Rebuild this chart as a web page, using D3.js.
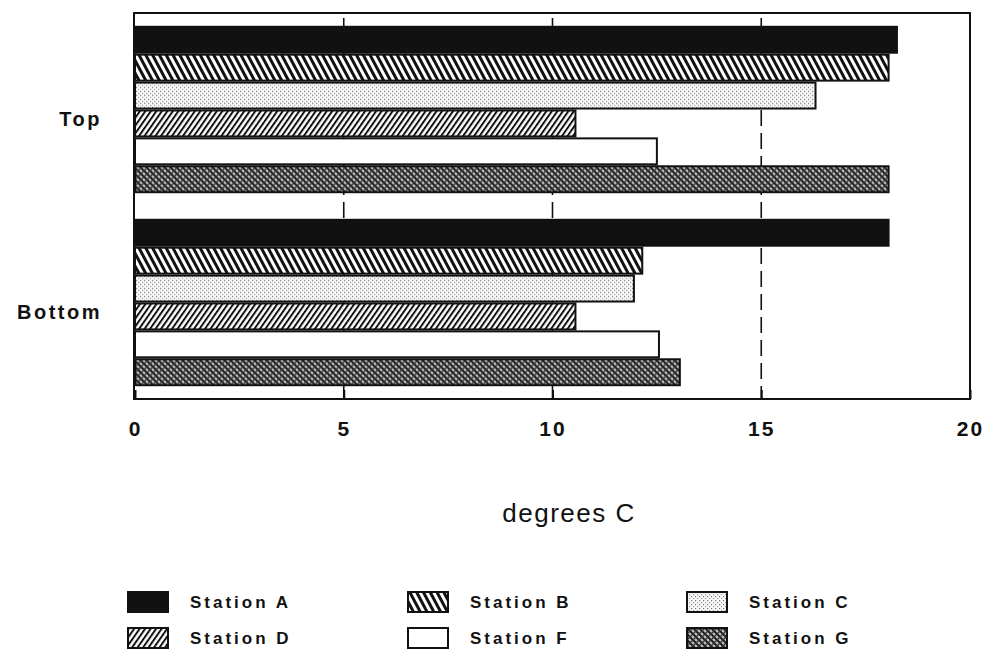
<!DOCTYPE html>
<html>
<head>
  <title>Temperature by Station</title>
  <script src="https://cdn.jsdelivr.net/npm/d3@7"></script>
  <style>
    body { margin: 0; background: #fff; font-family: "Liberation Sans", Arial, sans-serif; }
    .lbl { font-weight: bold; fill: #111; }
  </style>
</head>
<body>
  <div id="chart"></div>
  <script>
    const groups = ["Top", "Bottom"];
    const stations = ["Station A", "Station B", "Station C", "Station D", "Station F", "Station G"];
    const topValues = [18.25, 18.05, 16.3, 10.55, 12.5, 18.05];
    const bottomValues = [18.05, 12.15, 11.95, 10.55, 12.55, 13.05];
    const xTicks = [0, 5, 10, 15, 20];
    const gridTicks = [5, 10, 15];

    const W = 999, H = 659;
    const plot = {left: 134, right: 970, top: 13, bottom: 399};

    const svg = d3.select("#chart").append("svg")
      .attr("width", W).attr("height", H);

    // fill patterns imitating the old printer hatching
    const defs = svg.append("defs");
    function lines(id, period, width, angle, bg) {
      const p = defs.append("pattern").attr("id", id)
        .attr("patternUnits", "userSpaceOnUse")
        .attr("width", period).attr("height", period)
        .attr("patternTransform", `rotate(${angle})`);
      p.append("rect").attr("width", period).attr("height", period).attr("fill", bg);
      p.append("rect").attr("width", width).attr("height", period).attr("fill", "#111");
    }
    lines("patB", 6, 3, -28, "#fff");
    lines("patD", 4.5, 2, 35, "#fff");

    const pc = defs.append("pattern").attr("id", "patC")
      .attr("patternUnits", "userSpaceOnUse").attr("width", 4).attr("height", 4);
    pc.append("rect").attr("width", 4).attr("height", 4).attr("fill", "#fafafa");
    pc.append("rect").attr("x", 0).attr("y", 0).attr("width", 1.2).attr("height", 1.2).attr("fill", "#777");
    pc.append("rect").attr("x", 2).attr("y", 2).attr("width", 1.2).attr("height", 1.2).attr("fill", "#999");

    const pg = defs.append("pattern").attr("id", "patG")
      .attr("patternUnits", "userSpaceOnUse").attr("width", 6).attr("height", 6);
    pg.append("rect").attr("width", 6).attr("height", 6).attr("fill", "#bdbdbd");
    pg.append("path").attr("d", "M0,0L6,6M-3,3L3,9M3,-3L9,3").attr("stroke", "#111").attr("stroke-width", 1.9);
    pg.append("path").attr("d", "M6,0L0,6M3,-3L-3,3M9,3L3,9").attr("stroke", "#333").attr("stroke-width", 1.4);

    const fills = {
      "Station A": "#111",
      "Station B": "url(#patB)",
      "Station C": "url(#patC)",
      "Station D": "url(#patD)",
      "Station F": "#fff",
      "Station G": "url(#patG)"
    };

    const x = d3.scaleLinear().domain([0, 20]).range([plot.left + 1, plot.right]);
    const y0 = d3.scaleBand().domain(groups)
      .range([plot.top, plot.bottom]).paddingInner(1 / 7).paddingOuter(0.5 / 7);
    const y1 = d3.scaleBand().domain(stations)
      .range([0, y0.bandwidth()]).paddingInner(0.07);

    // dashed grid lines behind the bars
    svg.append("g").selectAll("line").data(gridTicks).join("line")
      .attr("x1", d => x(d)).attr("x2", d => x(d))
      .attr("y1", plot.top).attr("y2", plot.bottom)
      .attr("stroke", "#111").attr("stroke-width", 1.6)
      .attr("stroke-dasharray", "16,7")
      .attr("stroke-dashoffset", 18);

    const rows = [
      {group: "Top", values: topValues},
      {group: "Bottom", values: bottomValues}
    ];

    const gGroups = svg.append("g").selectAll("g").data(rows).join("g")
      .attr("transform", d => `translate(0,${y0(d.group)})`);

    gGroups.selectAll("rect")
      .data(d => d.values.map((v, i) => ({station: stations[i], value: v})))
      .join("rect")
      .attr("x", x(0))
      .attr("y", d => y1(d.station))
      .attr("width", d => x(d.value) - x(0))
      .attr("height", y1.bandwidth())
      .attr("fill", d => fills[d.station])
      .attr("stroke", "#111").attr("stroke-width", 2);

    // frame
    svg.append("rect")
      .attr("x", plot.left).attr("y", plot.top)
      .attr("width", plot.right - plot.left).attr("height", plot.bottom - plot.top)
      .attr("fill", "none").attr("stroke", "#111").attr("stroke-width", 2);

    // x axis with inward ticks
    const xAxis = svg.append("g")
      .attr("transform", `translate(0,${plot.bottom})`)
      .call(d3.axisBottom(x).tickValues(xTicks).tickSize(-9).tickSizeOuter(0).tickPadding(22));
    xAxis.select(".domain").remove();
    xAxis.selectAll("line").attr("stroke", "#111").attr("stroke-width", 2);
    xAxis.selectAll("text")
      .attr("class", "lbl")
      .style("font-size", "21px")
      .style("letter-spacing", "2px")
      .attr("fill", "#111");

    // group labels
    svg.append("g").selectAll("text").data(groups).join("text")
      .attr("class", "lbl")
      .attr("x", 102)
      .attr("y", d => y0(d) + y0.bandwidth() / 2 + 16)
      .attr("text-anchor", "end")
      .style("font-size", "20px")
      .style("letter-spacing", "2.5px")
      .text(d => d);

    svg.append("text")
      .attr("x", 569).attr("y", 522)
      .attr("text-anchor", "middle")
      .style("font-size", "26px")
      .style("letter-spacing", "1.5px")
      .attr("fill", "#111")
      .text("degrees C");

    // legend, three columns by two rows
    const legCols = [128, 408, 687];
    const legRows = [592, 628];
    const leg = svg.append("g").selectAll("g").data(stations).join("g")
      .attr("transform", (d, i) => `translate(${legCols[i % 3]},${legRows[Math.floor(i / 3)]})`);
    leg.append("rect")
      .attr("width", 40).attr("height", 20)
      .attr("fill", d => fills[d])
      .attr("stroke", "#111").attr("stroke-width", 2);
    leg.append("text")
      .attr("class", "lbl")
      .attr("x", 62).attr("y", 16)
      .style("font-size", "17px")
      .style("letter-spacing", "3px")
      .text(d => d);
  </script>
</body>
</html>
